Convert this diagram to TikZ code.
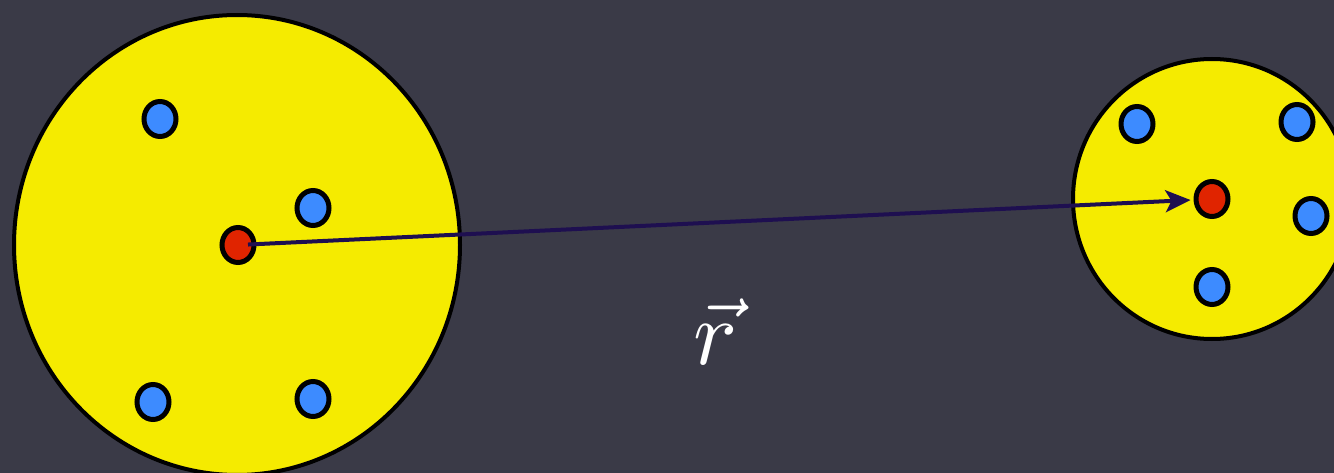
\documentclass[tikz,border=0pt]{standalone}
\usetikzlibrary{shapes.geometric,arrows.meta}
\definecolor{bgc}{HTML}{3A3A47}
\definecolor{yel}{HTML}{F5EB00}
\definecolor{blu}{HTML}{3D8BFF}
\definecolor{rd}{HTML}{E02400}
\definecolor{arr}{HTML}{1E0F50}
\tikzset{
  body/.style={ellipse, draw=black, line width=4pt, fill=yel, inner sep=0pt},
  bdot/.style={ellipse, draw=black, line width=5pt, fill=blu, minimum width=32pt, minimum height=35pt, inner sep=0pt},
  rdot/.style={bdot, fill=rd},
  vecline/.style={draw=arr, line width=4pt, -{Stealth[length=25pt,width=22pt,inset=6pt]}}
}
\begin{document}
\begin{tikzpicture}[x=1pt,y=-1pt]
\fill[bgc] (0,0) rectangle (1334,473);
\useasboundingbox (0,0) rectangle (1334,473);
\node[body, minimum width=446pt, minimum height=460pt] (L) at (237,245) {};
\node[body, minimum width=278pt, minimum height=280pt] (R) at (1212,199) {};
\node[bdot] (l1) at (160,119) {};
\node[bdot] (l2) at (313,208) {};
\node[bdot] (l3) at (153,402) {};
\node[bdot] (l4) at (313,399) {};
\node[rdot] (lc) at (238,245) {};
\node[bdot] (r1) at (1137,124) {};
\node[bdot] (r2) at (1297,122) {};
\node[bdot] (r3) at (1311,216) {};
\node[bdot] (r4) at (1212,287) {};
\node[rdot] (rc) at (1212,199) {};
\draw[vecline, shorten <=10pt, shorten >=3pt] (lc.center) -- (rc);
\node[text=white, scale=9.2, inner sep=0pt] (lab) at (716,332) {$\vec{r}$};
\end{tikzpicture}
\end{document}
